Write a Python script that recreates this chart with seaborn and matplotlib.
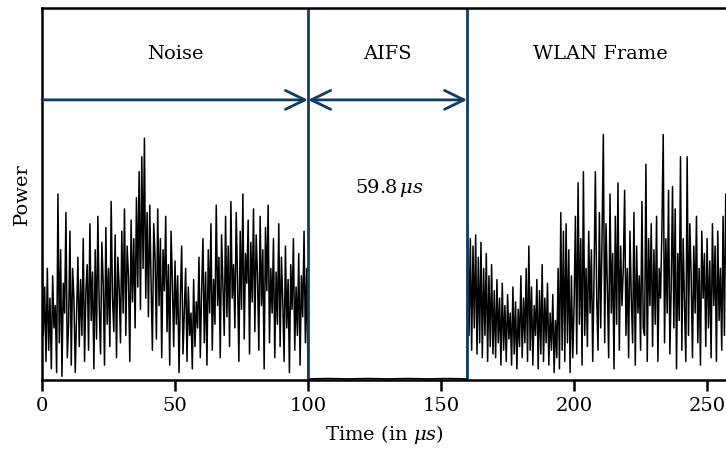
import numpy as np
import pandas as pd
import matplotlib
matplotlib.use("Agg")
import matplotlib.pyplot as plt
import seaborn as sns

# sample spacing of the trace (µs)
step = 0.5

# received power, % of axis height
noise_values = [
    38, 12, 25, 5, 30, 8, 22, 3, 28, 14, 20, 2, 50, 10, 35, 1, 26, 18, 45, 6,
    15, 40, 4, 30, 22, 2, 18, 33, 9, 27, 12, 38, 5, 24, 31, 8, 42, 16, 29, 3,
    35, 11, 44, 20, 7, 37, 26, 4, 41, 15, 30, 9, 48, 22, 13, 39, 6, 33, 25, 10,
    40, 18, 46, 12, 36, 28, 5, 43, 21, 38, 14, 49, 25, 56, 19, 60, 30, 65, 22, 45,
    17, 47, 26, 8, 42, 33, 11, 46, 20, 38, 6, 35, 24, 44, 13, 31, 4, 40, 27, 9,
    32, 15, 28, 2, 22, 36, 7, 19, 30, 5, 25, 12, 18, 3, 27, 9, 21, 14, 33, 6,
    24, 38, 10, 29, 4, 35, 18, 42, 8, 27, 15, 47, 20, 33, 6, 39, 25, 12, 44, 17,
    36, 9, 48, 22, 31, 14, 45, 27, 5, 40, 19, 50, 11, 34, 26, 43, 7, 37, 21, 46,
    13, 39, 28, 8, 44, 20, 35, 3, 41, 24, 47, 10, 30, 18, 38, 6, 29, 15, 42, 9,
    33, 21, 5, 36, 14, 27, 2, 31, 19, 38, 8, 25, 12, 34, 4, 28, 17, 40, 10, 30,
]
aifs_values = [0.3, 0.4, 0.3, 0.4, 0.3, 0.4, 0.3, 0.4, 0.3]
wlan_values = [
    42, 12, 38, 8, 36, 14, 39, 7, 33, 10, 37, 6, 30, 12, 34, 5, 28, 9, 31, 7,
    24, 6, 27, 10, 22, 4, 26, 8, 20, 5, 23, 11, 18, 4, 25, 7, 21, 3, 19, 9,
    28, 6, 22, 10, 30, 5, 36, 8, 25, 4, 20, 12, 27, 3, 24, 7, 31, 5, 22, 10,
    26, 4, 18, 8, 23, 2, 16, 6, 30, 3, 45, 8, 40, 5, 42, 10, 35, 2, 28, 6,
    20, 44, 7, 53, 15, 38, 4, 56, 12, 30, 9, 40, 18, 35, 5, 28, 56, 22, 8, 45,
    14, 38, 66, 10, 42, 25, 6, 50, 18, 34, 3, 44, 15, 53, 8, 36, 20, 30, 51, 12,
    30, 6, 40, 22, 10, 45, 4, 36, 18, 28, 8, 48, 14, 12, 58, 5, 38, 20, 42, 9,
    35, 15, 44, 5, 30, 22, 40, 66, 10, 38, 18, 51, 7, 25, 52, 14, 46, 3, 34, 16,
    60, 8, 38, 20, 5, 60, 12, 42, 28, 6, 36, 18, 44, 10, 30, 4, 40, 22, 34, 9,
    38, 14, 32, 6, 42, 20, 36, 5, 40, 16, 30, 8, 44, 12, 50, 24, 38, 7, 33, 15,
]

noise_start, aifs_start, wlan_start = 0.0, 100.0, 159.8
x_ticks = [0, 50, 100, 150, 200, 250]
x_max = 257.1

noise_t = noise_start + step * np.arange(len(noise_values))
aifs_t = np.linspace(aifs_start, wlan_start, len(aifs_values))
wlan_t = 160.0 + step * np.arange(len(wlan_values))

trace = pd.DataFrame({
    "time": np.concatenate([noise_t, aifs_t, wlan_t]),
    "power": noise_values + aifs_values + wlan_values,
})

sns.set_style("ticks")
plt.rcParams["font.family"] = ["DejaVu Serif"]
plt.rcParams["mathtext.fontset"] = "dejavuserif"
plt.rcParams["text.color"] = "black"
plt.rcParams["axes.labelcolor"] = "black"
plt.rcParams["xtick.color"] = "black"

blue = "#123d63"

fig = plt.figure(figsize=(7.26, 4.51), dpi=100)
ax = fig.add_axes([42 / 726, 71 / 451, 684 / 726, 372 / 451])

sns.lineplot(data=trace, x="time", y="power", ax=ax, color="black",
             linewidth=1.1, estimator=None, sort=False)

# segment borders
for xb in [aifs_start, wlan_start]:
    ax.axvline(xb, color=blue, lw=2)

# duration arrows
arrow_y = 75.3
hs = "head_length=1.4,head_width=0.68"
head = dict(color=blue, lw=2, shrinkA=0, shrinkB=0)
ax.annotate("", xy=(aifs_start, arrow_y), xytext=(0, arrow_y),
            arrowprops=dict(arrowstyle="->," + hs, **head))
ax.annotate("", xy=(wlan_start, arrow_y), xytext=(aifs_start, arrow_y),
            arrowprops=dict(arrowstyle="<->," + hs, **head))
ax.annotate("", xy=(x_max + 5, arrow_y), xytext=(wlan_start, arrow_y),
            arrowprops=dict(arrowstyle="<-," + hs, **head))

ax.text(50, 87.6, "Noise", ha="center", va="center", fontsize=14)
ax.text(130, 87.6, "AIFS", ha="center", va="center", fontsize=14)
ax.text(209.8, 87.6, "WLAN Frame", ha="center", va="center", fontsize=14)
ax.text(130.5, 51.5, r"59.8$\,\mu s$", ha="center", va="center", fontsize=14)

ax.set_xlim(0, x_max)
ax.set_ylim(0, 100)
ax.set_xticks(x_ticks)
ax.set_yticks([])
ax.tick_params(axis="x", labelsize=14, length=8, width=1.8, direction="out", pad=4)
ax.set_xlabel(r"Time (in $\mu s$)", fontsize=14, labelpad=6)
ax.set_ylabel("Power", fontsize=14, labelpad=8)
ax.spines["right"].set_visible(False)
for s in ["left", "bottom", "top"]:
    ax.spines[s].set_linewidth(1.8)
    ax.spines[s].set_color("black")

fig.savefig("out.png", dpi=100)
